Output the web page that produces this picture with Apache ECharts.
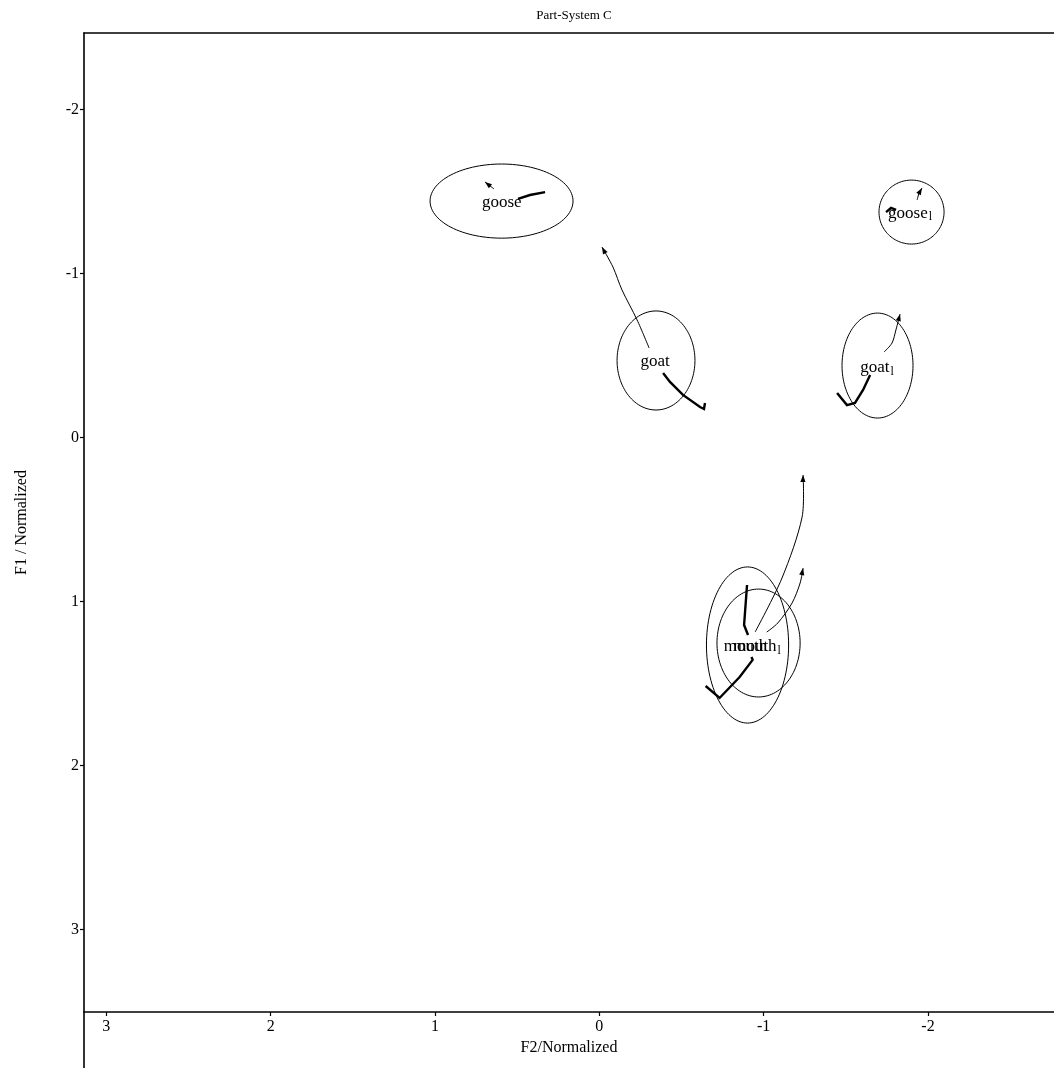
<!DOCTYPE html>
<html><head><meta charset="utf-8">
<script src="https://cdn.jsdelivr.net/npm/echarts@6/dist/echarts.min.js"></script>
<style>html,body{margin:0;padding:0;background:#fff}#c{width:1054px;height:1068px}</style>
</head><body><div id="c"></div>
<script>
// ---- axis ticks ----
const xTicks = [3, 2, 1, 0, -1, -2];
const yTicks = [-2, -1, 0, 1, 2, 3];

// ---- vowel categories ----
const vowels = ['goose', 'goose_l', 'goat', 'goat_l', 'mouth', 'mouth_l'];
const labelTexts = ['goose', 'goose{s|l}', 'goat', 'goat{s|l}', 'mouth', 'mouth{s|l}'];

// ---- ellipse centres and radii (F2, F1) ----
const ellipseCx = [0.595, -1.900, -0.345, -1.693, -0.902, -0.969];
const ellipseCy = [-1.443, -1.376, -0.471, -0.440, 1.264, 1.252];
const ellipseRx = [0.435, 0.198, 0.237, 0.216, 0.250, 0.253];
const ellipseRy = [0.226, 0.195, 0.302, 0.320, 0.476, 0.329];

// ---- label positions ----
const labelX = [0.594, -1.891, -0.339, -1.690, -0.890, -0.960];
const labelY = [-1.437, -1.370, -0.462, -0.426, 1.276, 1.276];

// ---- trajectory parts: start (thick) and end (thin, arrow) ----
const gooseStart = [[0.330, -1.498], [0.422, -1.480], [0.495, -1.456]];
const gooseEnd = [[0.641, -1.517], [0.696, -1.560]];
const gooseLStart = [[-1.745, -1.376], [-1.775, -1.401], [-1.806, -1.389]];
const gooseLEnd = [[-1.934, -1.450], [-1.946, -1.492], [-1.964, -1.523]];
const goatStart = [[-0.643, -0.212], [-0.637, -0.175], [-0.613, -0.187], [-0.509, -0.261], [-0.430, -0.340], [-0.388, -0.395]];
const goatEnd = [[-0.303, -0.547], [-0.230, -0.718], [-0.138, -0.901], [-0.083, -1.041], [-0.016, -1.163]];
const goatLStart = [[-1.447, -0.273], [-1.507, -0.199], [-1.556, -0.212], [-1.605, -0.291], [-1.648, -0.382]];
const goatLEnd = [[-1.733, -0.523], [-1.781, -0.577], [-1.805, -0.657], [-1.830, -0.754]];
const mouthStart = [[-0.647, 1.514], [-0.732, 1.587], [-0.854, 1.459], [-0.933, 1.355], [-0.926, 1.337]];
const mouthEnd = [[-0.948, 1.185], [-1.112, 0.855], [-1.234, 0.484], [-1.240, 0.227]];
const mouthLStart = [[-0.899, 0.898], [-0.881, 1.142], [-0.905, 1.203]];
const mouthLEnd = [[-1.019, 1.185], [-1.086, 1.130], [-1.173, 1.008], [-1.222, 0.886], [-1.240, 0.795]];

const startParts = [gooseStart, gooseLStart, goatStart, goatLStart, mouthStart, mouthLStart];
const endParts = [gooseEnd, gooseLEnd, goatEnd, goatLEnd, mouthEnd, mouthLEnd];

// ---- styling ----
const FONT = '"Liberation Serif", "Times New Roman", serif';
const X_MIN = -2.767, X_MAX = 3.136, Y_MIN = -2.468, Y_MAX = 3.502;

const chart = echarts.init(document.getElementById('c'), null, {renderer: 'canvas'});

const ellipseData = vowels.map((v, i) => [ellipseCx[i], ellipseCy[i], ellipseRx[i], ellipseRy[i]]);
const segments = [];
startParts.forEach(p => segments.push({pts: p, w: 2.4, arrow: false, smooth: 0}));
endParts.forEach(p => segments.push({pts: p, w: 1, arrow: true, smooth: 0.3}));

const axisCommon = {
  type: 'value',
  inverse: true,
  splitLine: {show: false},
  axisLine: {show: true, onZero: false, lineStyle: {color: '#000', width: 1.6}},
  axisTick: {show: true, inside: false, length: 4, lineStyle: {color: '#000', width: 1.2}},
  axisLabel: {color: '#000', fontFamily: FONT, fontSize: 16}
};

chart.setOption({
  animation: false,
  backgroundColor: '#fff',
  title: {
    text: 'Part-System C', left: 569, top: 4, textAlign: 'center',
    textStyle: {fontFamily: FONT, fontSize: 13, fontWeight: 'normal', color: '#000'}
  },
  grid: {left: 84, top: 33, right: 0, bottom: 56, containLabel: false},
  xAxis: [
    Object.assign({}, axisCommon, {
      min: X_MIN, max: X_MAX, position: 'bottom',
      name: 'F2/Normalized', nameLocation: 'middle', nameGap: 27,
      nameTextStyle: {fontFamily: FONT, fontSize: 16, color: '#000'},
      axisTick: Object.assign({}, axisCommon.axisTick, {customValues: xTicks}),
      axisLabel: Object.assign({}, axisCommon.axisLabel, {customValues: xTicks, margin: 7})
    }),
    {
      type: 'value', inverse: true, min: X_MIN, max: X_MAX, position: 'top',
      axisLine: {show: true, onZero: false, lineStyle: {color: '#000', width: 1.6}},
      axisTick: {show: false}, axisLabel: {show: false}, splitLine: {show: false}
    }
  ],
  yAxis: Object.assign({}, axisCommon, {
    min: Y_MIN, max: Y_MAX, position: 'left',
    name: 'F1 / Normalized', nameLocation: 'middle', nameGap: 54,
    nameTextStyle: {fontFamily: FONT, fontSize: 16, color: '#000'},
    axisTick: Object.assign({}, axisCommon.axisTick, {customValues: yTicks}),
    axisLabel: Object.assign({}, axisCommon.axisLabel, {customValues: yTicks, margin: 5})
  }),
  graphic: [{
    type: 'line', shape: {x1: 84, y1: 1012, x2: 84, y2: 1068},
    style: {stroke: '#000', lineWidth: 1.6}, silent: true
  }],
  series: [
    {
      type: 'custom', name: 'ellipses', coordinateSystem: 'cartesian2d',
      data: ellipseData, clip: true,
      renderItem: function (params, api) {
        const cx = api.value(0), cy = api.value(1), rx = api.value(2), ry = api.value(3);
        const c = api.coord([cx, cy]);
        const e = api.coord([cx + rx, cy + ry]);
        const prx = Math.abs(e[0] - c[0]), pry = Math.abs(e[1] - c[1]);
        const pts = [];
        for (let k = 0; k < 120; k++) {
          const t = k / 120 * Math.PI * 2;
          pts.push([c[0] + prx * Math.cos(t), c[1] + pry * Math.sin(t)]);
        }
        return {type: 'polygon', shape: {points: pts}, style: {fill: 'none', stroke: '#000', lineWidth: 1}};
      }
    },
    {
      type: 'custom', name: 'trajectories', coordinateSystem: 'cartesian2d',
      data: segments.map(s => s.pts[0]), clip: true,
      renderItem: function (params, api) {
        const seg = segments[params.dataIndex];
        const pts = seg.pts.map(p => api.coord(p));
        const children = [{
          type: 'polyline', shape: {points: pts, smooth: seg.smooth},
          style: {fill: 'none', stroke: '#000', lineWidth: seg.w, lineJoin: 'miter', lineCap: 'butt'}
        }];
        if (seg.arrow) {
          const a = pts[pts.length - 2], b = pts[pts.length - 1];
          const ang = Math.atan2(b[1] - a[1], b[0] - a[0]);
          const L = 7, W = 2.6;
          const bx = b[0] - L * Math.cos(ang), by = b[1] - L * Math.sin(ang);
          children.push({
            type: 'polygon',
            shape: {points: [[b[0], b[1]],
              [bx + W * Math.sin(ang), by - W * Math.cos(ang)],
              [bx - W * Math.sin(ang), by + W * Math.cos(ang)]]},
            style: {fill: '#000', stroke: 'none'}
          });
        }
        return {type: 'group', children: children};
      }
    },
    {
      type: 'scatter', name: 'labels', symbolSize: 0,
      itemStyle: {opacity: 1},
      data: vowels.map((v, i) => ({value: [labelX[i], labelY[i]], name: labelTexts[i]})),
      label: {
        show: true, position: 'inside', color: '#000', opacity: 1,
        textBorderWidth: 0, textBorderColor: 'transparent',
        fontFamily: FONT, fontSize: 17,
        formatter: p => p.name,
        rich: {s: {fontFamily: FONT, fontSize: 12, color: '#000', textBorderWidth: 0, padding: [7, 0, 0, 1]}}
      },
      emphasis: {disabled: true},
      z: 5
    }
  ]
});
</script>
</body></html>
